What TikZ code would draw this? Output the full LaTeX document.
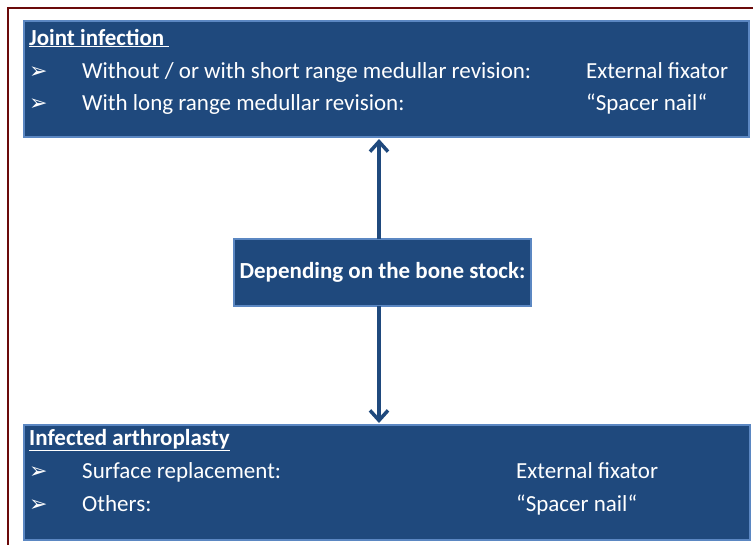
\documentclass[tikz,border=0pt]{standalone}
\usepackage{fontspec}
\setmainfont{Carlito}
\newfontfamily\dejavu{DejaVu Sans}
\usetikzlibrary{arrows.meta}
\definecolor{boxblue}{HTML}{1F497D}
\definecolor{edgeblue}{HTML}{5B87C2}
\definecolor{framered}{HTML}{6B0A0A}
\tikzset{
  panel/.style={draw=edgeblue, line width=1.5pt, fill=boxblue},
  txt/.style={text=white, font=\fontsize{23}{26}\selectfont, anchor=base west, inner sep=0pt},
  head/.style={txt, font=\fontsize{23}{26}\selectfont\bfseries},
  bul/.style={text=white, font=\dejavu\fontsize{22}{24}\selectfont, anchor=base west, inner sep=0pt},
  link/.style={draw=boxblue, line width=3.5pt, -{Straight Barb[length=10pt, width=18pt, line width=3.5pt]}}
}
\newcommand{\ul}[1]{\underline{#1}}
\begin{document}
\begin{tikzpicture}[x=1pt,y=-1pt]
\useasboundingbox (0,0) rectangle (753,544);
\draw[framered, line width=1.2pt] (8,560) -- (8,8) -- (770,8);
% top panel
\draw[panel] (24,21) rectangle (749,137);
\node[head] (h1) at (29,45) {\ul{Joint infection\ }};
\node[bul] (b1) at (29,78) {➢};
\node[bul] (b2) at (29,110) {➢};
\node[txt] (t1) at (82,78) {Without / or with short range medullar revision:};
\node[txt] (t2) at (82,110) {With long range medullar revision:};
\node[txt] (r1) at (586,78) {External fixator};
\node[txt] (r2) at (586,110) {“Spacer nail“};
% middle
\node[panel, minimum width=297pt, minimum height=67pt, inner sep=0pt, text=white, font=\fontsize{23}{26}\selectfont\bfseries] (mid) at (382.5,272.5) {Depending on the bone stock:};
% bottom panel
\draw[panel] (24,425) rectangle (750,540);
\node[head] (h2) at (29,445) {\ul{Infected arthroplasty}};
\node[bul] (b3) at (29,478) {➢};
\node[bul] (b4) at (29,511) {➢};
\node[txt] (t3) at (82,478) {Surface replacement:};
\node[txt] (t4) at (82,511) {Others:};
\node[txt] (r3) at (516,478) {External fixator};
\node[txt] (r4) at (516,511) {“Spacer nail“};
\coordinate (topb) at (379,139);
\coordinate (botb) at (379,423);
\draw[link] (379,239) -- (topb);
\draw[link] (379,306) -- (botb);
\end{tikzpicture}
\end{document}
